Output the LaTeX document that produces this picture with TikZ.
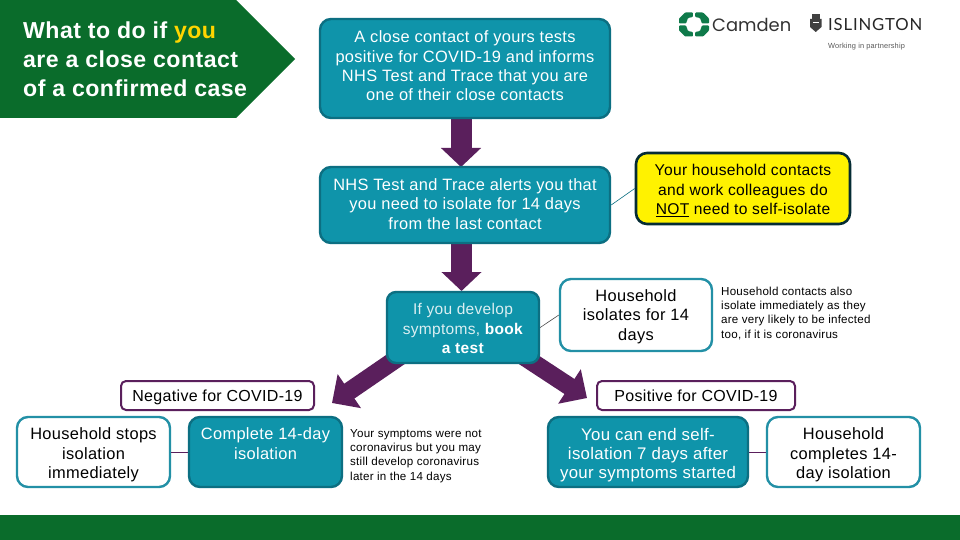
\documentclass[tikz,border=0pt]{standalone}
\usepackage{fontspec}
\setmainfont[LetterSpace=2]{Liberation Sans}
\newfontfamily\logofont{Poppins}
\newfontfamily\crestfont[LetterSpace=5]{Lato}
\usetikzlibrary{arrows.meta,backgrounds}
\definecolor{tealfill}{HTML}{0F94AA}
\definecolor{tealedge}{HTML}{0C6F82}
\definecolor{whiteedge}{HTML}{2390A6}
\definecolor{plum}{HTML}{5A1F5C}
\definecolor{darkgreen}{HTML}{0A6C2B}
\definecolor{logogreen}{HTML}{0F7A4A}
\definecolor{ygold}{HTML}{FFD500}
\newcommand\ctext[2]{\raisebox{\dimexpr#1pt-0.25em-2.2pt\relax}[0pt][0pt]{\begin{tabular}{@{}c@{}}#2\end{tabular}}}
\tikzset{
  x=1pt,y=-1pt,
  base/.style={rounded corners=11pt,line width=2.4pt,inner sep=0pt,
    font=\fontsize{16.4}{19.4}\selectfont},
  teal/.style={base,draw=tealedge,fill=tealfill,text=white},
  plain/.style={base,draw=whiteedge,fill=white,text=black},
  caution/.style={base,draw=black!60!tealedge,fill=yellow,text=black,line width=2.6pt,
    font=\fontsize{15.6}{19.4}\selectfont},
  result/.style={base,draw=plum,fill=white,text=black,rounded corners=5pt,line width=2pt,
    font=\fontsize{16}{19.4}\selectfont},
  note/.style={align=left,inner sep=0pt,anchor=north west,text=black},
  flow/.style={plum,line width=21pt,-{Triangle[length=19pt,width=39pt]}},
  diag/.style={plum,line width=18pt,-{Triangle[length=21pt,width=40pt]}},
  link/.style={line width=0.6pt,draw=#1},
}
\begin{document}
\begin{tikzpicture}
\useasboundingbox (0,0) rectangle (960,540);
% title
\fill[darkgreen] (0,0) -- (236,0) -- (295,59) -- (236,118) -- (0,118) -- cycle;
\node[note,text=white,anchor=west,font=\fontsize{23.1}{29}\selectfont\bfseries] (title) at (23,59.5)
  {What to do if {\color{ygold}you}\\are a close contact\\of a confirmed case};
% footer
\fill[darkgreen] (0,515) rectangle (960,540);
% boxes
\node[teal,minimum width=290pt,minimum height=99pt] (first) at (465,68.5)
  {\ctext{2.5}{A close contact of yours tests\\positive for COVID-19 and informs\\NHS Test and Trace that you are\\one of their close contacts}};
\node[teal,minimum width=290pt,minimum height=76pt] (alert) at (465,205)
  {\ctext{1}{NHS Test and Trace alerts you that\\you need to isolate for 14 days\\from the last contact}};
\node[teal,minimum width=152pt,minimum height=71pt,rounded corners=9pt,font=\fontsize{15.5}{19.4}\selectfont] (symptoms) at (463,327.5)
  {\ctext{-0.5}{{\color{white!85!tealfill}If you develop}\\{\color{white!85!tealfill}symptoms,} \textbf{book}\\\textbf{a test}}};
\node[caution,minimum width=214pt,minimum height=71pt] (others) at (743,188.5)
  {\ctext{-0.5}{Your household contacts\\and work colleagues do\\\underline{NOT} need to self-isolate}};
\node[plain,minimum width=152pt,minimum height=72pt] (house) at (636,315)
  {\ctext{0}{Household\\isolates for 14\\days}};
\node[note,font=\fontsize{11.6}{14.3}\selectfont] (housenote) at (721,286.5)
  {Household contacts also\\isolate immediately as they\\are very likely to be infected\\too, if it is coronavirus};
\node[result,minimum width=193pt,minimum height=29pt] (neg) at (217.5,395.5) {\ctext{-0.5}{Negative for COVID-19}};
\node[result,minimum width=198pt,minimum height=29pt] (pos) at (696,395.5) {\ctext{-0.5}{Positive for COVID-19}};
\node[plain,minimum width=153pt,minimum height=70pt] (stops) at (93.5,452)
  {\ctext{-1.5}{Household stops\\isolation\\immediately}};
\node[teal,minimum width=153pt,minimum height=70pt] (complete) at (265.5,452)
  {\ctext{-1.5}{Complete 14-day\\isolation\\\strut}};
\node[note,font=\fontsize{11.6}{14.3}\selectfont] (negnote) at (350,429)
  {Your symptoms were not\\coronavirus but you may\\still develop coronavirus\\later in the 14 days};
\node[teal,minimum width=200pt,minimum height=70pt,font=\fontsize{16.8}{19.4}\selectfont] (end) at (648,452)
  {\ctext{-1.5}{You can end self-\\isolation 7 days after\\your symptoms started}};
\node[plain,minimum width=153pt,minimum height=70pt] (completes) at (843.5,452)
  {\ctext{-1.5}{Household\\completes 14-\\day isolation}};
% big arrows, behind the boxes
\coordinate (negtip) at (332,403);
\coordinate (postip) at (587,398);
\begin{scope}[on background layer]
\fill[white] (0,0) rectangle (960,540);
\draw[flow] (first.south -| 461,0) -- (461,167);
\draw[flow] (alert.south -| 461.5,0) -- (461.5,291);
\draw[diag] (symptoms.center) ++(-45,16.5) coordinate (negstart) (negstart) -- (negtip);
\draw[diag] (symptoms.center) ++(41,16) coordinate (posstart) (posstart) -- (postip);
\end{scope}
% thin links
\draw[link=tealedge] (alert.east) -- (others.west);
\draw[link=black!70] (symptoms.east) -- (house.west);
\draw[link=plum] (stops.east) -- (complete.west);
\draw[link=plum] (end.east) -- (completes.west);
% logos
\begin{scope}[shift={(694,24.5)}]
\foreach \sx/\sy in {-1/-1,1/-1,-1/1,1/1}
  \fill[logogreen,rounded corners=0.8pt] (\sx*15,\sy*1) -- (\sx*15,\sy*6) -- (\sx*9,\sy*12) -- (\sx*1.2,\sy*12)
    -- (\sx*1.2,\sy*7.5) -- (\sx*6,\sy*6.5) -- (\sx*8,\sy*1) -- cycle;
\end{scope}
\node[inner sep=0pt,anchor=west,text=black!80,font=\logofont\fontsize{17.9}{20}\selectfont] (camden) at (712,24.5) {Camden};
\fill[black!75] (810,19) -- (821.5,19) -- (821.5,27) -- (815.7,32) -- (810,27) -- cycle;
\fill[black!75] (812,14) rectangle (819.5,19);
\fill[white] (812.5,22.5) rectangle (819,23.5);
\node[inner sep=0pt,anchor=west,text=black!85,font=\crestfont\fontsize{16.7}{18}\selectfont] (islington) at (828,24.5) {ISLINGTON};
\node[inner sep=0pt,anchor=west,text=black!65,font=\fontsize{7.4}{8}\selectfont] (partner) at (828,46.5) {Working in partnership};
\end{tikzpicture}
\end{document}
